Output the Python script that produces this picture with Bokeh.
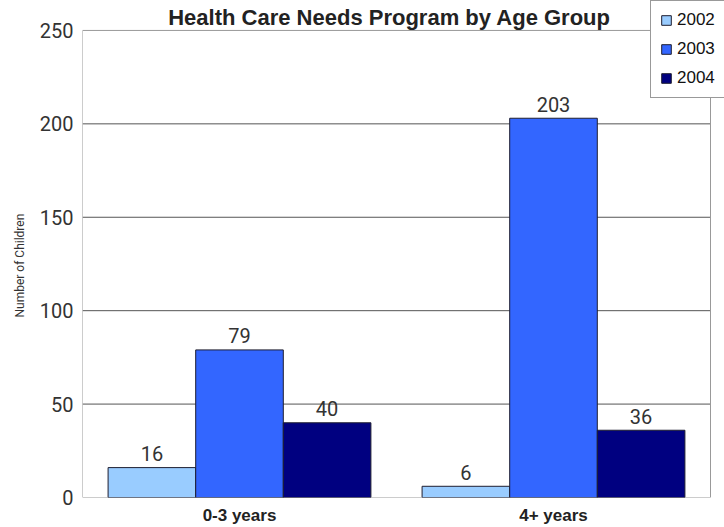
from bokeh.plotting import figure
from bokeh.models import ColumnDataSource, Range1d, FixedTicker, Label, Legend, Title
from bokeh.core.properties import value
from bokeh.embed import file_html
from bokeh.resources import INLINE

groups = ["0-3 years", "4+ years"]
years = ["2002", "2003", "2004"]
v2002 = [16, 6]
v2003 = [79, 203]
v2004 = [40, 36]
colors = ["#99CCFF", "#3366FF", "#000080"]
y_ticks = [0, 50, 100, 150, 200, 250]
title_text = "Health Care Needs Program by Age Group"
y_label = "Number of Children"

NARROW = "'Liberation Sans Narrow', 'Arial Narrow', Roboto, sans-serif"
SANS = "'Liberation Sans', Arial, sans-serif"

W, H = 724, 527
LEFT, RIGHT_GAP, BOTTOM, TOP_GAP = 82, 14, 29, 30
n = len(groups)
frame_w = W - LEFT
frame_h = H - BOTTOM
px_per_cat = (frame_w - RIGHT_GAP) / n
px_per_unit = (frame_h - TOP_GAP) / y_ticks[-1]

centers = [i + 0.5 for i in range(n)]
src = ColumnDataSource(dict(x=centers,
                            v2002=v2002, v2003=v2003, v2004=v2004,
                            t2002=[str(v) for v in v2002],
                            t2003=[str(v) for v in v2003],
                            t2004=[str(v) for v in v2004]))

p = figure(width=W, height=H,
           x_range=Range1d(0, n + RIGHT_GAP / px_per_cat),
           y_range=Range1d(0, y_ticks[-1] + TOP_GAP / px_per_unit),
           output_backend="svg", toolbar_location=None, title=None,
           min_border_left=LEFT, min_border_right=0, min_border_top=0,
           min_border_bottom=BOTTOM)

# grid lines and plot borders (stopping at the plot area)
grid_colors = ["#999999" if t in (y_ticks[0], y_ticks[-1]) else "#555555" for t in y_ticks]
gsrc = ColumnDataSource(dict(x0=[0] * len(y_ticks), x1=[n] * len(y_ticks),
                             y=y_ticks, c=grid_colors))
p.segment(x0="x0", y0="y", x1="x1", y1="y", source=gsrc, line_color="c", line_width=1)
bsrc = ColumnDataSource(dict(x=[0, n], y0=[0, 0], y1=[y_ticks[-1], y_ticks[-1]]))
p.segment(x0="x", y0="y0", x1="x", y1="y1", source=bsrc, line_color="#999999", line_width=1)

bw = 0.279
offsets = [-bw, 0.0, bw]
renderers = []
for yr, col, off in zip(years, colors, offsets):
    xs = [c + off for c in centers]
    s = ColumnDataSource(dict(x=xs, top=src.data["v" + yr], t=src.data["t" + yr]))
    r = p.vbar(x="x", top="top", width=bw, source=s, fill_color=col,
               line_color="#1e1e30", line_width=1)
    renderers.append((yr, [r]))
    p.text(x="x", y="top", text="t", source=s, text_align="center",
           text_baseline="alphabetic", y_offset=-14, text_font=value(NARROW),
           text_font_size="20px", text_color="#333333")

# axes
p.xgrid.visible = False
p.ygrid.visible = False
p.outline_line_color = None

p.yaxis.ticker = FixedTicker(ticks=y_ticks)
p.yaxis.major_tick_line_color = None
p.yaxis.minor_tick_line_color = None
p.yaxis.major_tick_out = 0
p.yaxis.major_tick_in = 0
p.yaxis.axis_line_color = None
p.yaxis.major_label_standoff = 9
p.yaxis.major_label_text_font = NARROW
p.yaxis.major_label_text_font_size = "20px"
p.yaxis.major_label_text_color = "#333333"

# y-axis title, centred on the plot area (0..250) rather than the whole frame
p.add_layout(Title(text=y_label, align="left", offset=180, standoff=19,
                   text_font=NARROW, text_font_size="12px",
                   text_font_style="normal", text_color="#333333"), "left")

p.xaxis.ticker = FixedTicker(ticks=centers)
p.xaxis.major_label_overrides = {c: g for c, g in zip(centers, groups)}
p.xaxis.major_tick_line_color = None
p.xaxis.minor_tick_line_color = None
p.xaxis.major_tick_out = 0
p.xaxis.major_tick_in = 0
p.xaxis.axis_line_color = None
p.xaxis.major_label_standoff = 8
p.xaxis.major_label_text_font = SANS
p.xaxis.major_label_text_font_size = "17px"
p.xaxis.major_label_text_font_style = "bold"
p.xaxis.major_label_text_color = "#222222"

p.background_fill_color = "white"
p.border_fill_color = "white"

# title
title_cx = (389 - LEFT) / px_per_cat
title_y = (frame_h - 17) / px_per_unit
p.add_layout(Label(x=title_cx, y=title_y, text=title_text, text_align="center",
                   text_baseline="alphabetic", text_font=SANS,
                   text_font_size="22px", text_font_style="bold",
                   text_color="#222222"))

legend = Legend(items=renderers, location=(568, 399), orientation="vertical",
                glyph_width=12, glyph_height=12, label_height=20, spacing=9,
                padding=9, margin=0, label_standoff=5, label_width=60,
                label_text_font=SANS, label_text_font_size="17px",
                label_text_color="#111111", border_line_color="#333333",
                border_line_width=1, background_fill_color="white",
                background_fill_alpha=1.0)
p.add_layout(legend)

open("out.html", "w").write(file_html(p, INLINE))
